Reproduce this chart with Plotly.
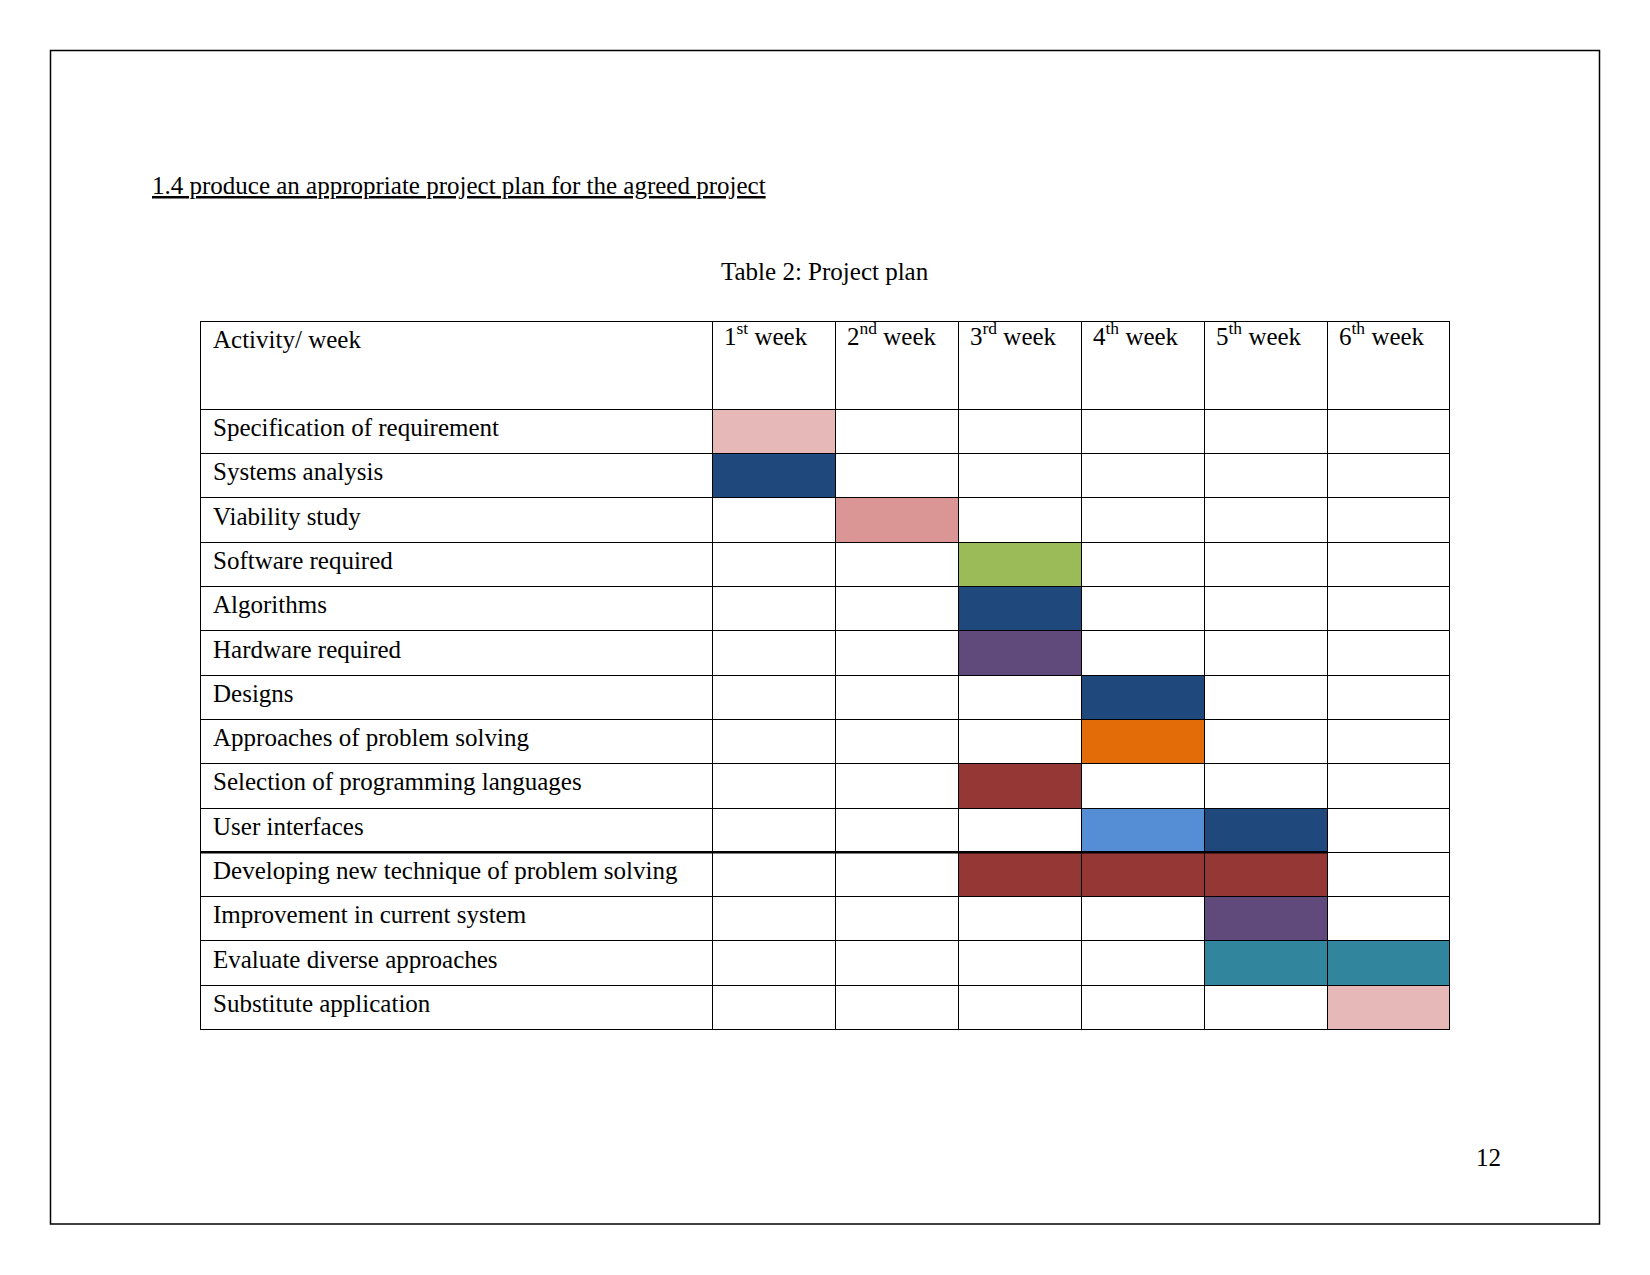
import plotly.graph_objects as go

# page is 1650x1275; the html body adds an 8px margin, so the figure is 8px smaller
PAGE_W, PAGE_H, OFF = 1650, 1275, 8
W, H = PAGE_W - OFF, PAGE_H - OFF


def px(x):
    return (x - OFF) / W


def py(y):
    return 1 - (y - OFF) / H


# ---- data ----
week_labels = ["1<sup>st</sup> week", "2<sup>nd</sup> week", "3<sup>rd</sup> week",
               "4<sup>th</sup> week", "5<sup>th</sup> week", "6<sup>th</sup> week"]
activities = [
    "Specification of requirement",
    "Systems analysis",
    "Viability study",
    "Software required",
    "Algorithms",
    "Hardware required",
    "Designs",
    "Approaches of problem solving",
    "Selection of programming languages",
    "User interfaces",
    "Developing new technique of problem solving",
    "Improvement in current system",
    "Evaluate diverse approaches",
    "Substitute application",
]
# weeks (1-based) in which each activity takes place
activity_weeks = [[1], [1], [2], [3], [3], [3], [4], [4], [3], [4, 5], [3, 4, 5], [5], [5, 6], [6]]
# fill colour of each scheduled week cell
activity_colors = [
    ["#E6B9B8"], ["#1F497D"], ["#D99694"], ["#9BBB59"], ["#1F497D"], ["#604A7B"],
    ["#1F497D"], ["#E36C09"], ["#953735"], ["#558ED5", "#1F497D"],
    ["#953735", "#953735", "#953735"], ["#604A7B"], ["#31859C", "#31859C"], ["#E6B9B8"],
]

# ---- layout geometry (page pixels) ----
tbl_left, tbl_right, tbl_top = 200, 1450, 321
header_h, row_h = 88.3, 44.3
first_col_w = 512.4
n_weeks = len(week_labels)
week_col_w = (tbl_right - tbl_left - first_col_w) / n_weeks
tbl_bottom = tbl_top + header_h + row_h * len(activities)
PAD = "\u2009"  # small extra left padding like the document's cell margin

# build fill colours, column by column
fill_cols = [["white"] * len(activities)]
for w in range(1, n_weeks + 1):
    col = []
    for wk, cl in zip(activity_weeks, activity_colors):
        col.append(cl[wk.index(w)] if w in wk else "white")
    fill_cols.append(col)

cell_vals = [[PAD + a for a in activities]] + [[""] * len(activities) for _ in range(n_weeks)]

FONT = "Liberation Serif, Times New Roman, serif"

fig = go.Figure(go.Table(
    domain=dict(x=[px(tbl_left), px(tbl_right)],
                y=[py(tbl_bottom + 4), py(tbl_top)]),
    columnwidth=[first_col_w] + [week_col_w] * n_weeks,
    header=dict(values=[PAD + "Activity/ week"] + [""] * n_weeks,
                align="left", height=header_h,
                fill_color="white",
                line=dict(color="black", width=1),
                font=dict(family=FONT, size=25, color="black")),
    cells=dict(values=cell_vals,
               align="left", height=row_h,
               fill_color=fill_cols,
               line=dict(color="black", width=1),
               font=dict(family=FONT, size=25, color="black")),
))

# thicker separator below "User interfaces"
sep_idx = activities.index("User interfaces") + 1
sep_y = tbl_top + header_h + row_h * sep_idx

shapes = [
    dict(type="rect", xref="paper", yref="paper",
         x0=px(50.5), x1=px(1599.5), y0=py(1224), y1=py(50.5),
         line=dict(color="black", width=1.5)),
    dict(type="line", xref="paper", yref="paper",
         x0=px(tbl_left), x1=px(tbl_left + first_col_w + 5 * week_col_w),
         y0=py(sep_y), y1=py(sep_y),
         line=dict(color="black", width=2.5)),
]

annotations = [
    dict(text="<u>1.4 produce an appropriate project plan for the agreed project</u>",
         xref="paper", yref="paper", x=px(150), y=py(186),
         xanchor="left", yanchor="middle", showarrow=False,
         font=dict(family=FONT, size=25, color="black")),
    dict(text="Table 2: Project plan",
         xref="paper", yref="paper", x=px(825), y=py(271.5),
         xanchor="center", yanchor="middle", showarrow=False,
         font=dict(family=FONT, size=25, color="black")),
    dict(text="12",
         xref="paper", yref="paper", x=px(1488), y=py(1157),
         xanchor="center", yanchor="middle", showarrow=False,
         font=dict(family=FONT, size=25, color="black")),
]
# week header labels (with superscripts) placed at the top of each week column
for i, lab in enumerate(week_labels):
    col_left = tbl_left + first_col_w + i * week_col_w
    annotations.append(dict(
        text=lab, xref="paper", yref="paper",
        x=px(col_left + 10), y=py(tbl_top + 30.5),
        xanchor="left", yanchor="bottom", showarrow=False,
        font=dict(family=FONT, size=25, color="black")))

fig.update_layout(
    width=W, height=H,
    margin=dict(l=0, r=0, t=0, b=0),
    paper_bgcolor="white", plot_bgcolor="white",
    shapes=shapes, annotations=annotations,
    showlegend=False,
)

fig.write_html("out.html")
